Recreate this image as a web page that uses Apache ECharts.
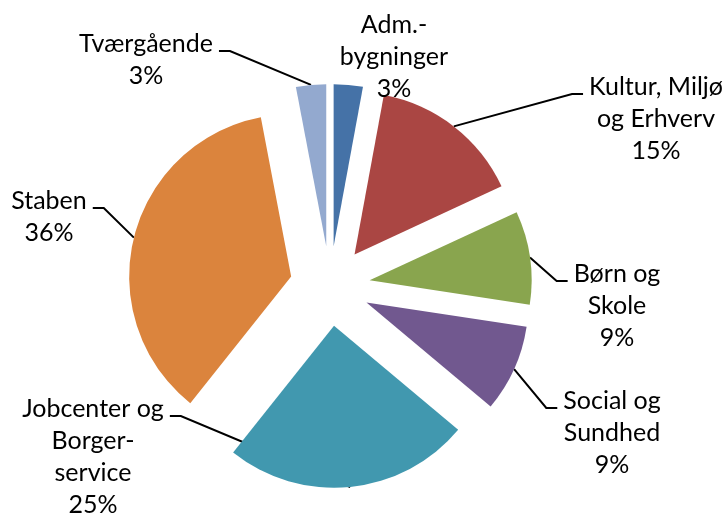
<!DOCTYPE html>
<html lang="da">
<head>
<meta charset="utf-8">
<script src="https://cdn.jsdelivr.net/npm/echarts@6/dist/echarts.min.js"></script>
<style>
  html, body { margin: 0; height: 100%; background: #fff; }
  #chart { width: 724px; height: 513px; }
</style>
</head>
<body>
<div id="chart"></div>
<script>
  // data (percent of total)
  var names = ['Adm.-\nbygninger', 'Kultur, Miljø\nog Erhverv', 'Børn og\nSkole', 'Social og\nSundhed',
               'Jobcenter og\nBorger-\nservice', 'Staben', 'Tværgående'];
  var values = [2.9, 15.2, 9.3, 8.7, 24.6, 36.3, 3.0];
  var colors = ['#4572a7', '#aa4643', '#89a54e', '#71588f', '#4198af', '#db843d', '#93a9cf'];

  // label block centres, and the side of the text where the leader line ends (0 = no line)
  var labelPos = [[394, 57], [656, 119], [617, 306], [612, 433], [93, 457], [49, 217], [146, 60]];
  var lineSide = [0, -1, -1, -1, 1, 1, 1];

  var cx = 330, cy = 286, radius = 162, explode = 40;

  var total = values.reduce(function (a, b) { return a + b; }, 0);
  var midAngles = [], acc = 0;
  values.forEach(function (v) {
    midAngles.push((acc + v / 2) / total * Math.PI * 2);
    acc += v;
  });

  var chart = echarts.init(document.getElementById('chart'));
  chart.setOption({
    backgroundColor: '#fff',
    animation: false,
    series: [{
      // exploded slices
      type: 'pie',
      center: [cx, cy],
      radius: [0, radius],
      startAngle: 90,
      clockwise: true,
      selectedMode: 'multiple',
      selectedOffset: explode,
      emphasis: { disabled: true },
      itemStyle: { borderWidth: 0 },
      label: { show: false },
      labelLine: { show: false },
      data: values.map(function (v, i) {
        return { value: v, name: names[i], selected: true, itemStyle: { color: colors[i] } };
      })
    }, {
      // same pie, invisible, only carries the labels and leader lines
      type: 'pie',
      silent: true,
      center: [cx, cy],
      radius: [0, radius],
      startAngle: 90,
      clockwise: true,
      avoidLabelOverlap: false,
      emphasis: { disabled: true },
      itemStyle: { color: 'rgba(0,0,0,0)', borderWidth: 0 },
      label: {
        show: true,
        position: 'outside',
        fontFamily: 'Lato',
        fontSize: 25,
        lineHeight: 32,
        color: '#000',
        align: 'center',
        formatter: function (p) { return p.name + '\n' + Math.round(p.percent) + '%'; }
      },
      labelLine: { show: true, lineStyle: { color: '#000', width: 2 } },
      labelLayout: function (p) {
        var i = p.dataIndex;
        var x = labelPos[i][0], y = labelPos[i][1];
        var w = p.labelRect.width, h = p.labelRect.height;
        var res = { x: x, y: y, align: 'center', verticalAlign: 'middle' };
        if (lineSide[i] !== 0) {
          var a = midAngles[i];
          var ax = cx + (radius + explode) * Math.sin(a);
          var ay = cy - (radius + explode) * Math.cos(a);
          var ly = y - h / 2 + 23;
          var ex = x + lineSide[i] * (w / 2 + 6);
          var mx = ex + lineSide[i] * 11;
          res.labelLinePoints = [[ax, ay], [mx, ly], [ex, ly]];
        }
        return res;
      },
      data: values.map(function (v, i) {
        return { value: v, name: names[i], labelLine: { show: lineSide[i] !== 0 } };
      })
    }]
  });
</script>
</body>
</html>
